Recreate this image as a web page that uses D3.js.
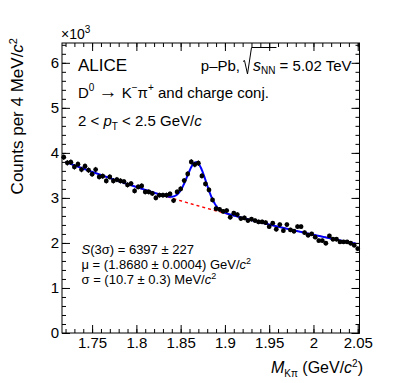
<!DOCTYPE html>
<html>
<head>
<meta charset="utf-8">
<script src="https://d3js.org/d3.v7.min.js"></script>
<style>
  body { margin: 0; background: #fff; }
  svg text { font-family: "Liberation Sans", Arial, sans-serif; fill: #000; }
</style>
</head>
<body>
<div id="chart"></div>
<script>
// histogram binning: 84 bins of 4 MeV from 1.716 to 2.052 GeV/c2
var massLo = 1.716, binWidth = 0.004;

// counts per bin
var counts = [
  3904, 3778, 3793, 3689, 3749, 3629, 3704, 3616, 3527, 3629,
  3467, 3482, 3378, 3467, 3378, 3407, 3378, 3362, 3289, 3318,
  3156, 3244, 3267, 3133, 3133, 3100, 3000, 3060, 3060, 3060,
  3089, 2940, 3133, 3200, 3384, 3533, 3800, 3740, 3771, 3489,
  3311, 3178, 2956, 2760, 2745, 2700, 2718, 2571, 2660, 2629,
  2540, 2556, 2496, 2527, 2496, 2467, 2467, 2451, 2362, 2438,
  2304, 2407, 2273, 2407, 2289, 2260, 2362, 2362, 2229, 2171,
  2200, 2127, 2051, 2051, 1993, 2156, 2082, 2082, 2022, 2022,
  2022, 1993, 1949, 1873
];

// fit: exponential background + gaussian signal
var bgParams = [3810, -1.98, 1.7185];        // norm, slope, reference mass
var sigParams = [6397, 1.8680, 0.0107];      // S(3 sigma), mu, sigma
var fitRange = [1.72, 2.048];

var xTickValues = [1.75, 1.8, 1.85, 1.9, 1.95, 2.0, 2.05];
var xTickLabels = ["1.75", "1.8", "1.85", "1.9", "1.95", "2", "2.05"];
var yTickValues = [0, 1, 2, 3, 4, 5, 6];
var yTickLabels = ["0", "1", "2", "3", "4", "5", "6"];

var W = 395, H = 383;
var frame = { left: 62, right: 359.5, top: 43, bottom: 333 };

var svg = d3.select("#chart").append("svg")
  .attr("width", W).attr("height", H);

var x = d3.scaleLinear().domain([1.716, 2.052]).range([frame.left, frame.right]);
var y = d3.scaleLinear().domain([0, 6.44]).range([frame.bottom, frame.top]);

var bins = counts.map(function(c, i) {
  return { m: massLo + (i + 0.5) * binWidth, n: c };
});

function background(m) {
  return bgParams[0] * Math.exp(bgParams[1] * (m - bgParams[2]));
}
function signal(m) {
  var amp = sigParams[0] / 0.9973 * binWidth / (Math.sqrt(2 * Math.PI) * sigParams[2]);
  var d = (m - sigParams[1]) / sigParams[2];
  return amp * Math.exp(-0.5 * d * d);
}

// ---- axes (ticks inside, on all four sides)
var xMinor = d3.range(1.72, 2.0505, 0.01);
var yMinor = d3.range(0, 6.45, 0.2);

function styleAxis(g) {
  g.select(".domain").remove();
  g.selectAll("line").attr("stroke", "#000");
  g.selectAll("text").style("font-size", "15px").attr("fill", "#000");
}

svg.append("g").attr("transform", "translate(0," + frame.bottom + ")")
  .call(d3.axisBottom(x).tickValues(xMinor).tickSize(-4).tickFormat(""))
  .call(styleAxis);
svg.append("g").attr("transform", "translate(0," + frame.bottom + ")")
  .call(d3.axisBottom(x).tickValues(xTickValues).tickSize(-8).tickPadding(4)
    .tickFormat(function(d, i) { return xTickLabels[i]; }))
  .call(styleAxis);
svg.append("g").attr("transform", "translate(0," + frame.top + ")")
  .call(d3.axisTop(x).tickValues(xMinor).tickSize(-4).tickFormat(""))
  .call(styleAxis);
svg.append("g").attr("transform", "translate(0," + frame.top + ")")
  .call(d3.axisTop(x).tickValues(xTickValues).tickSize(-8).tickFormat(""))
  .call(styleAxis);

svg.append("g").attr("transform", "translate(" + frame.left + ",0)")
  .call(d3.axisLeft(y).tickValues(yMinor).tickSize(-4).tickFormat(""))
  .call(styleAxis);
svg.append("g").attr("transform", "translate(" + frame.left + ",0)")
  .call(d3.axisLeft(y).tickValues(yTickValues).tickSize(-8).tickPadding(3)
    .tickFormat(function(d, i) { return yTickLabels[i]; }))
  .call(styleAxis);
svg.append("g").attr("transform", "translate(" + frame.right + ",0)")
  .call(d3.axisRight(y).tickValues(yMinor).tickSize(-4).tickFormat(""))
  .call(styleAxis);
svg.append("g").attr("transform", "translate(" + frame.right + ",0)")
  .call(d3.axisRight(y).tickValues(yTickValues).tickSize(-8).tickFormat(""))
  .call(styleAxis);

svg.append("rect")
  .attr("x", frame.left).attr("y", frame.top)
  .attr("width", frame.right - frame.left).attr("height", frame.bottom - frame.top)
  .attr("fill", "none").attr("stroke", "#000").attr("stroke-width", 1);

// ---- fit curves
var fitMasses = d3.range(fitRange[0], fitRange[1] + 1e-9, 0.0005);

var line = d3.line()
  .x(function(d) { return x(d.m); })
  .y(function(d) { return y(d.v / 1000); });

svg.append("path")
  .datum(fitMasses.map(function(m) { return { m: m, v: background(m) }; }))
  .attr("d", line)
  .attr("fill", "none").attr("stroke", "#ff0000")
  .attr("stroke-width", 1.4).attr("stroke-dasharray", "3,3");

svg.append("path")
  .datum(fitMasses.map(function(m) { return { m: m, v: background(m) + signal(m) }; }))
  .attr("d", line)
  .attr("fill", "none").attr("stroke", "#0000ff").attr("stroke-width", 2);

// ---- data points with statistical errors
var pts = svg.append("g");
pts.selectAll("line")
  .data(bins).enter().append("line")
  .attr("x1", function(d) { return x(d.m); })
  .attr("x2", function(d) { return x(d.m); })
  .attr("y1", function(d) { return y((d.n + Math.sqrt(d.n)) / 1000); })
  .attr("y2", function(d) { return y((d.n - Math.sqrt(d.n)) / 1000); })
  .attr("stroke", "#000").attr("stroke-width", 1);
pts.selectAll("circle")
  .data(bins).enter().append("circle")
  .attr("cx", function(d) { return x(d.m); })
  .attr("cy", function(d) { return y(d.n / 1000); })
  .attr("r", 2.4)
  .attr("fill", "#000");

// ---- texts
// x10^3 multiplier
var mult = svg.append("text").attr("x", 61).attr("y", 39).style("font-size", "14px");
mult.append("tspan").text("\u00d710");
mult.append("tspan").attr("dy", -6).style("font-size", "10px").text("3");

svg.append("text").attr("x", 78).attr("y", 70.5).style("font-size", "17px").text("ALICE");

// p-Pb, sqrt(s_NN) = 5.02 TeV
var energy = svg.append("text").attr("x", 351.5).attr("y", 70.5)
  .attr("text-anchor", "end").style("font-size", "15px");
energy.append("tspan").text("p\u2013Pb,");
energy.append("tspan").attr("dx", 13).style("font-style", "italic").style("font-size", "16px").text("s");
energy.append("tspan").attr("dy", 3).style("font-size", "10px").text("NN");
energy.append("tspan").attr("dy", -3).text(" = 5.02 TeV");
(function() {
  var node = energy.node();
  var sx = node.getStartPositionOfChar(5).x;   // the "s"
  var ex = node.getEndPositionOfChar(7).x;     // end of "NN"
  var b = 70.5;
  svg.append("path")
    .attr("d", "M" + (sx - 10) + "," + (b - 9) + " L" + (sx - 8.5) + "," + (b - 10)
      + " L" + (sx - 5.5) + "," + (b + 3.5) + " L" + (sx - 1.5) + "," + (b - 23)
      + " L" + (ex + 1) + "," + (b - 23))
    .attr("fill", "none").attr("stroke", "#000").attr("stroke-width", 1);
})();

var decay = svg.append("text").attr("x", 78).attr("y", 98.3).style("font-size", "15px");
decay.append("tspan").text("D");
decay.append("tspan").attr("dy", -7).style("font-size", "10px").text("0");
decay.append("tspan").attr("dy", 7).text(" ");
decay.append("tspan").style("font-size", "19px").text("\u2192");
decay.append("tspan").text(" K");
decay.append("tspan").attr("dy", -7).style("font-size", "10px").text("\u2212");
decay.append("tspan").attr("dy", 7).text("\u03c0");
decay.append("tspan").attr("dy", -7).style("font-size", "10px").text("+");
decay.append("tspan").attr("dy", 7).text(" and charge conj.");

var ptText = svg.append("text").attr("x", 78).attr("y", 126).style("font-size", "15px");
ptText.append("tspan").text("2 < ");
ptText.append("tspan").style("font-style", "italic").text("p");
ptText.append("tspan").attr("dy", 4).style("font-size", "10px").text("T");
ptText.append("tspan").attr("dy", -4).text(" < 2.5 GeV/");
ptText.append("tspan").style("font-style", "italic").text("c");

var fitLines = svg.append("g").style("font-size", "13px");
var l1 = fitLines.append("text").attr("x", 81.5).attr("y", 254);
l1.append("tspan").style("font-style", "italic").text("S");
l1.append("tspan").text("(3\u03c3) = 6397 \u00b1 227");
var l2 = fitLines.append("text").attr("x", 81.5).attr("y", 268.5);
l2.append("tspan").text("\u03bc = (1.8680 \u00b1 0.0004) GeV/");
l2.append("tspan").style("font-style", "italic").text("c");
l2.append("tspan").attr("dy", -5).style("font-size", "9px").text("2");
var l3 = fitLines.append("text").attr("x", 81.5).attr("y", 283.5);
l3.append("tspan").text("\u03c3 = (10.7 \u00b1 0.3) MeV/");
l3.append("tspan").style("font-style", "italic").text("c");
l3.append("tspan").attr("dy", -5).style("font-size", "9px").text("2");

// axis titles
var xt = svg.append("text").attr("x", 363).attr("y", 373)
  .attr("text-anchor", "end").style("font-size", "16px");
xt.append("tspan").style("font-style", "italic").text("M");
xt.append("tspan").attr("dy", 4).style("font-size", "10px").text("K\u03c0");
xt.append("tspan").attr("dy", -4).text(" (GeV/");
xt.append("tspan").style("font-style", "italic").text("c");
xt.append("tspan").attr("dy", -6).style("font-size", "10px").text("2");
xt.append("tspan").attr("dy", 6).text(")");

var yt = svg.append("text")
  .attr("transform", "translate(23,38) rotate(-90)")
  .attr("text-anchor", "end").style("font-size", "17px");
yt.append("tspan").text("Counts per 4 MeV/");
yt.append("tspan").style("font-style", "italic").text("c");
yt.append("tspan").attr("dy", -6).style("font-size", "11px").text("2");
</script>
</body>
</html>
